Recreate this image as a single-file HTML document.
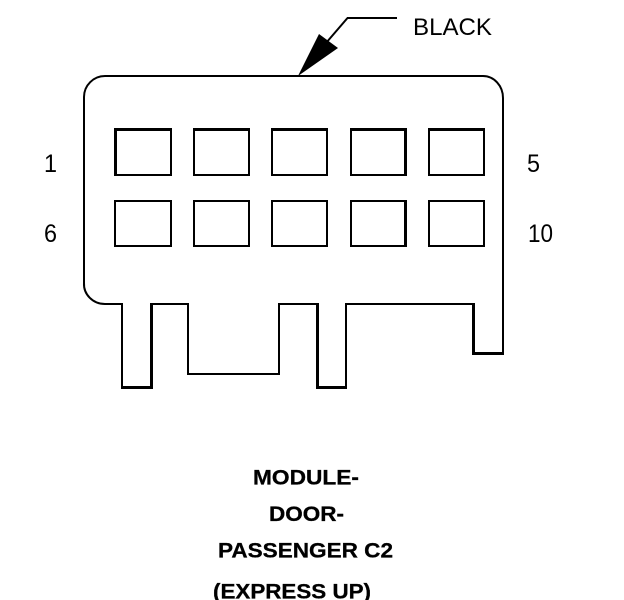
<!DOCTYPE html>
<html>
<head>
<meta charset="utf-8">
<style>
html,body{margin:0;padding:0;background:#fff;width:624px;height:600px;overflow:hidden}
svg{display:block}
text{font-family:"Liberation Sans",Arial,sans-serif;fill:#000}
.b{font-weight:bold;font-size:21.5px;stroke:#000;stroke-width:.3px}
.n{font-size:25px}
.w{fill:#fff}
</style>
</head>
<body>
<svg width="624" height="600" viewBox="0 0 624 600" xmlns="http://www.w3.org/2000/svg">
<rect width="624" height="600" fill="#fff"/>
<!-- straight outline segments -->
<g fill="#000" shape-rendering="crispEdges">
<rect x="105" y="75" width="378" height="2"/>
<rect x="83" y="97" width="2" height="186"/>
<rect x="502" y="98" width="2" height="257"/>
<rect x="105" y="303" width="18" height="2"/>
<rect x="121" y="303" width="2" height="86"/>
<rect x="121" y="386" width="32" height="3"/>
<rect x="150" y="303" width="3" height="86"/>
<rect x="150" y="303" width="39" height="2"/>
<rect x="187" y="303" width="2" height="72"/>
<rect x="187" y="373" width="93" height="2"/>
<rect x="278" y="303" width="2" height="72"/>
<rect x="278" y="303" width="41" height="2"/>
<rect x="316" y="303" width="3" height="86"/>
<rect x="316" y="386" width="31" height="3"/>
<rect x="345" y="303" width="2" height="86"/>
<rect x="345" y="303" width="130" height="2"/>
<rect x="472" y="303" width="3" height="52"/>
<rect x="472" y="352" width="32" height="3"/>
<rect x="347" y="17" width="50" height="2"/>
</g>
<!-- corners and leader -->
<g fill="none" stroke="#000" stroke-width="2">
<path d="M84 97A21 21 0 0 1 105 76"/>
<path d="M84 283A21 20 0 0 0 105 304"/>
<path d="M483 76A20 22 0 0 1 503 98"/>
<path d="M347.500 18L326 43"/>
</g>
<polygon points="298,76 319,34 338,48" fill="#000"/>
<!-- cavities -->
<g shape-rendering="crispEdges">
<rect x="114" y="128" width="58" height="48"/><rect class="w" x="117" y="131" width="53" height="43"/>
<rect x="193" y="128" width="57" height="48"/><rect class="w" x="195" y="131" width="53" height="43"/>
<rect x="271" y="128" width="57" height="48"/><rect class="w" x="273" y="131" width="53" height="43"/>
<rect x="350" y="128" width="57" height="48"/><rect class="w" x="352" y="131" width="52" height="43"/>
<rect x="428" y="128" width="57" height="48"/><rect class="w" x="430" y="131" width="53" height="43"/>
<rect x="114" y="200" width="58" height="47"/><rect class="w" x="116" y="202" width="54" height="43"/>
<rect x="193" y="200" width="57" height="47"/><rect class="w" x="195" y="202" width="53" height="43"/>
<rect x="271" y="200" width="57" height="47"/><rect class="w" x="273" y="202" width="53" height="43"/>
<rect x="350" y="200" width="57" height="47"/><rect class="w" x="352" y="202" width="52" height="43"/>
<rect x="428" y="200" width="57" height="47"/><rect class="w" x="430" y="202" width="53" height="43"/>
</g>
<text x="413" y="35" font-size="24" textLength="79" lengthAdjust="spacingAndGlyphs">BLACK</text>
<text class="n" x="44" y="172" textLength="13" lengthAdjust="spacingAndGlyphs">1</text>
<text class="n" x="527" y="172" textLength="13" lengthAdjust="spacingAndGlyphs">5</text>
<text class="n" x="44" y="242" textLength="13" lengthAdjust="spacingAndGlyphs">6</text>
<text class="n" x="528" y="242" textLength="25" lengthAdjust="spacingAndGlyphs">10</text>
<text class="b" x="253" y="484.500" textLength="106" lengthAdjust="spacingAndGlyphs">MODULE-</text>
<text class="b" x="269" y="521" textLength="75" lengthAdjust="spacingAndGlyphs">DOOR-</text>
<text class="b" x="218" y="557.500" textLength="175" lengthAdjust="spacingAndGlyphs">PASSENGER C2</text>
<text class="b" x="213" y="598.500" textLength="158" lengthAdjust="spacingAndGlyphs">(EXPRESS UP)</text>
</svg>
</body>
</html>
